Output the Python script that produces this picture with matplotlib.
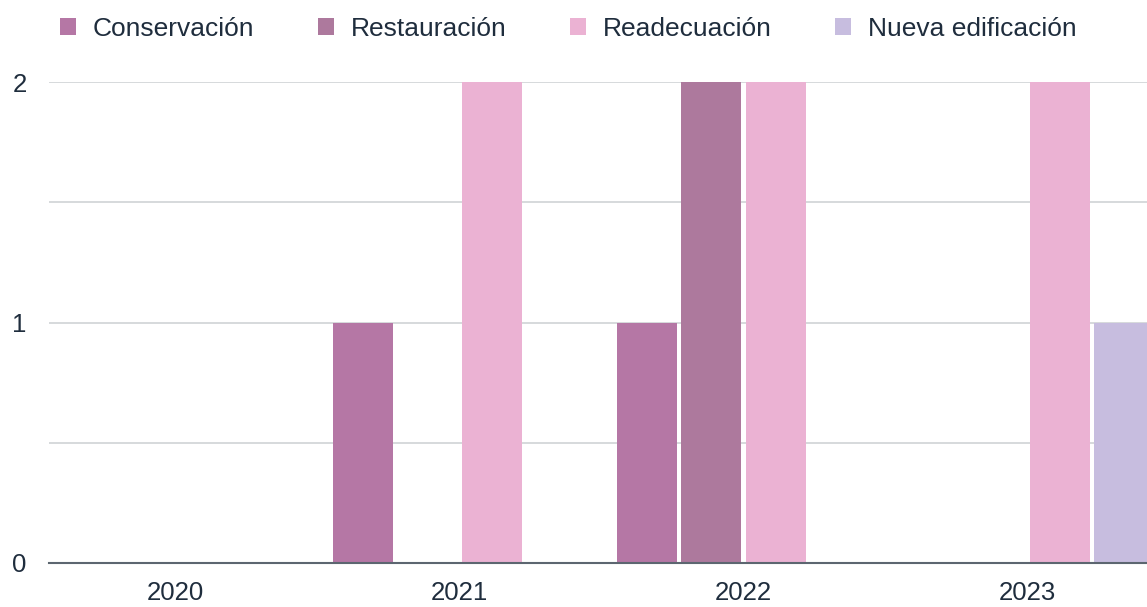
import numpy as np
import matplotlib
matplotlib.use("Agg")
import matplotlib.pyplot as plt

years = ["2020", "2021", "2022", "2023"]
series = ["Conservación", "Restauración", "Readecuación", "Nueva edificación"]
conservacion = [0, 1, 1, 0]
restauracion = [0, 0, 2, 0]
readecuacion = [0, 2, 2, 2]
nueva = [0, 0, 0, 1]
colors = ["#b577a5", "#ad799d", "#ebb2d3", "#c7bddf"]

plt.rcParams["font.family"] = ["Liberation Sans", "DejaVu Sans"]
text_color = "#1f2d3d"

fig = plt.figure(figsize=(11.47, 6.07), dpi=100)
ax = fig.add_axes([49 / 1147, 44 / 607, 1 - 49 / 1147, 481 / 607])

x = np.arange(len(years))
stride = 0.2264
width = 0.2113
values = [conservacion, restauracion, readecuacion, nueva]
for i, (name, vals, col) in enumerate(zip(series, values, colors)):
    offs = (i - 1.5) * stride
    ax.bar(x + offs, vals, width=width, color=col, label=name, zorder=3)

ax.set_xlim(-0.4454, 3.421)
ax.set_ylim(0, 2)
ax.set_yticks([0, 1, 2])
ax.set_yticks([0.5, 1.5], minor=True)
ax.set_xticks(x)
ax.set_xticklabels(years)
ax.tick_params(axis="both", length=0, labelsize=18.5, colors=text_color)
ax.tick_params(axis="y", which="minor", length=0)
ax.tick_params(axis="x", pad=13)
ax.tick_params(axis="y", pad=16)
ax.grid(axis="y", which="both", color="#cfd3d6", linewidth=1.2, zorder=0)
for s in ["top", "right", "left"]:
    ax.spines[s].set_visible(False)
ax.spines["bottom"].set_color("#5c6670")
ax.spines["bottom"].set_linewidth(1.5)
ax.spines["bottom"].set_zorder(4)

leg = ax.legend(ncol=4, loc="center left", fontsize=19,
                frameon=False, handlelength=0.6, handleheight=0.6, handletextpad=0.65,
                columnspacing=2.4, borderaxespad=0, borderpad=0)
for t in leg.get_texts():
    t.set_color(text_color)
leg.set_bbox_to_anchor((60 / 1147, 1 - 29 / 607), transform=fig.transFigure)

fig.savefig("out.png", dpi=100)
